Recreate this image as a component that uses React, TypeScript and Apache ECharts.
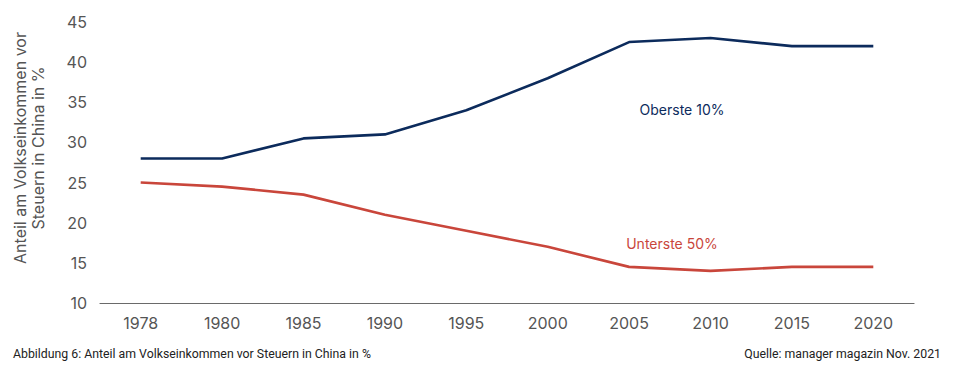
import React, { useEffect, useRef } from "react";
import * as echarts from "echarts";

const years = ["1978", "1980", "1985", "1990", "1995", "2000", "2005", "2010", "2015", "2020"];
const top10 = [28, 28, 30.5, 31, 34, 38, 42.5, 43, 42, 42];
const bottom50 = [25, 24.5, 23.5, 21, 19, 17, 14.5, 14, 14.5, 14.5];
const yTicks = { min: 10, max: 45, interval: 5 };
const axisName = ["Anteil am Volkseinkommen vor", "Steuern in China in %"];
const caption = "Abbildung 6: Anteil am Volkseinkommen vor Steuern in China in %";
const source = "Quelle: manager magazin Nov. 2021";
const seriesNames = ["Oberste 10%", "Unterste 50%"];

const NAVY = "#0c2b5c";
const RED = "#c9463b";
const FONT = "Inter, 'Noto Sans', sans-serif";

export default function App() {
  const ref = useRef<HTMLDivElement>(null);
  useEffect(() => {
    if (!ref.current) return;
    const chart = echarts.init(ref.current, null, { renderer: "svg" });
    chart.setOption({
      animation: false,
      grid: { left: 100, right: 49, top: 22, bottom: 70, containLabel: false },
      xAxis: {
        type: "category",
        data: years,
        boundaryGap: true,
        axisLine: { show: true, lineStyle: { color: "#6a6a6a", width: 1.2 } },
        axisTick: { show: false },
        axisLabel: { color: "#555", fontSize: 16, fontFamily: FONT, margin: 12 },
      },
      yAxis: {
        type: "value",
        min: yTicks.min,
        max: yTicks.max,
        interval: yTicks.interval,
        axisLine: { show: false },
        axisTick: { show: false },
        splitLine: { show: false },
        axisLabel: { color: "#555", fontSize: 16, fontFamily: FONT, margin: 13 },
      },
      series: [
        {
          name: seriesNames[0],
          type: "line",
          data: top10,
          symbol: "none",
          lineStyle: { color: NAVY, width: 2.6 },
        },
        {
          name: seriesNames[1],
          type: "line",
          data: bottom50,
          symbol: "none",
          lineStyle: { color: RED, width: 2.6 },
        },
      ],
      graphic: [
        {
          type: "text",
          x: 20,
          y: 148,
          rotation: Math.PI / 2,
          style: {
            text: axisName[0],
            fill: "#555",
            font: `16px ${FONT}`,
            align: "center",
            verticalAlign: "middle",
          },
        },
        {
          type: "text",
          x: 38,
          y: 148,
          rotation: Math.PI / 2,
          style: {
            text: axisName[1],
            fill: "#555",
            font: `16px ${FONT}`,
            align: "center",
            verticalAlign: "middle",
          },
        },
        {
          type: "text",
          x: 682,
          y: 109,
          style: {
            text: seriesNames[0],
            fill: NAVY,
            font: `14px ${FONT}`,
            align: "center",
            verticalAlign: "middle",
          },
        },
        {
          type: "text",
          x: 672,
          y: 243,
          style: {
            text: seriesNames[1],
            fill: RED,
            font: `14px ${FONT}`,
            align: "center",
            verticalAlign: "middle",
          },
        },
        {
          type: "text",
          x: 13,
          y: 354,
          style: {
            text: caption,
            fill: "#222",
            font: `12.3px Roboto, sans-serif`,
            align: "left",
            verticalAlign: "middle",
          },
        },
        {
          type: "text",
          x: 941,
          y: 354,
          style: {
            text: source,
            fill: "#222",
            font: `12.3px Roboto, sans-serif`,
            align: "right",
            verticalAlign: "middle",
          },
        },
      ],
    });
    return () => chart.dispose();
  }, []);
  return (
    <div
      ref={ref}
      style={{ position: "fixed", left: 0, top: 0, width: 963, height: 373, background: "#fff" }}
    />
  );
}
